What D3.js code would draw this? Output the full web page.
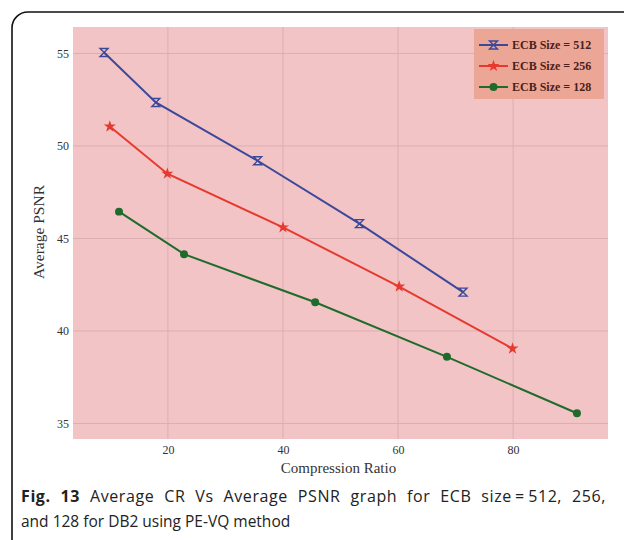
<!DOCTYPE html>
<html><head><meta charset="utf-8">
<script src="https://cdn.jsdelivr.net/npm/d3@7"></script>
<style>body{margin:0;background:#fff;}svg{display:block;}</style>
</head><body>
<script>
const cr512 = [8.9, 17.9, 35.6, 53.3, 71.3];
const psnr512 = [55.05, 52.35, 49.2, 45.8, 42.1];
const cr256 = [9.9, 19.9, 40.0, 60.2, 79.9];
const psnr256 = [51.05, 48.5, 45.6, 42.4, 39.05];
const cr128 = [11.5, 22.8, 45.6, 68.5, 91.1];
const psnr128 = [46.45, 44.15, 41.55, 38.6, 35.55];
const seriesNames = ["ECB Size = 512", "ECB Size = 256", "ECB Size = 128"];
const xTicks = [20, 40, 60, 80];
const yTicks = [35, 40, 45, 50, 55];
const captionBold = "Fig. 13";
const captionLine1 = " Average CR Vs Average PSNR graph for ECB size\u2009=\u2009512, 256,";
const captionLine2 = "and 128 for DB2 using PE-VQ method";

(function () {
const W = 624, H = 540;
const svg = d3.select("body").append("svg").attr("width", W).attr("height", H);

// outer frame
svg.append("rect").attr("x", 12).attr("y", 12).attr("width", 640).attr("height", 560)
  .attr("rx", 16).attr("fill", "#fff").attr("stroke", "#111").attr("stroke-width", 1.6);

const pL = 73, pR = 608, pT = 27, pB = 439;
const x = d3.scaleLinear().domain([3.5, 96.5]).range([pL, pR]);
const y = d3.scaleLinear().domain([34.16, 56.43]).range([pB, pT]);

svg.append("rect").attr("x", pL).attr("y", pT).attr("width", pR - pL).attr("height", pB - pT)
  .attr("fill", "#f2c4c6");

// grid
svg.append("g").selectAll("line").data(xTicks).join("line")
  .attr("x1", d => x(d)).attr("x2", d => x(d)).attr("y1", pT).attr("y2", pB)
  .attr("stroke", "#dcaeb2").attr("stroke-width", 1);
svg.append("g").selectAll("line").data(yTicks).join("line")
  .attr("y1", d => y(d)).attr("y2", d => y(d)).attr("x1", pL).attr("x2", pR)
  .attr("stroke", "#dcaeb2").attr("stroke-width", 1);

// axes
const xAxis = svg.append("g").attr("transform", `translate(0,${pB})`)
  .call(d3.axisBottom(x).tickValues(xTicks).tickSize(0).tickPadding(6));
const yAxis = svg.append("g").attr("transform", `translate(${pL},0)`)
  .call(d3.axisLeft(y).tickValues(yTicks).tickSize(0).tickPadding(4));
[xAxis, yAxis].forEach(a => {
  a.select(".domain").remove();
  a.selectAll("text").attr("font-family", "Liberation Serif, serif").attr("font-size", 12).attr("fill", "#333");
});

svg.append("text").attr("x", (pL + pR) / 2 - 2).attr("y", 473).attr("text-anchor", "middle")
  .attr("font-family", "Liberation Serif, serif").attr("font-size", 15).attr("fill", "#333")
  .text("Compression Ratio");
svg.append("text").attr("transform", "translate(44,232) rotate(-90)").attr("text-anchor", "middle")
  .attr("font-family", "Liberation Serif, serif").attr("font-size", 15.5).attr("fill", "#333")
  .text("Average PSNR");

const colors = ["#3c4899", "#e63a2e", "#1f6b2c"];
const data = [
  cr512.map((c, i) => [c, psnr512[i]]),
  cr256.map((c, i) => [c, psnr256[i]]),
  cr128.map((c, i) => [c, psnr128[i]])
];
const line = d3.line().x(d => x(d[0])).y(d => y(d[1]));

const hourglass = "M-4,-4L4,-4L-4,4L4,4Z";
const star = d3.symbol().type(d3.symbolStar).size(45)();
const circle = d3.symbol().type(d3.symbolCircle).size(50)();

function drawMarker(g, i) {
  if (i === 0) g.append("path").attr("d", hourglass).attr("fill", "none").attr("stroke", colors[0]).attr("stroke-width", 1.4);
  else if (i === 1) g.append("path").attr("d", star).attr("fill", colors[1]);
  else g.append("path").attr("d", circle).attr("fill", colors[2]);
}

data.forEach((s, i) => {
  svg.append("path").datum(s).attr("d", line).attr("fill", "none")
    .attr("stroke", colors[i]).attr("stroke-width", 2);
  s.forEach(p => {
    const g = svg.append("g").attr("transform", `translate(${x(p[0])},${y(p[1])})`);
    drawMarker(g, i);
  });
});

// legend
const lg = svg.append("g");
lg.append("rect").attr("x", 474).attr("y", 29).attr("width", 130).attr("height", 70).attr("fill", "#eca696");
seriesNames.forEach((n, i) => {
  const yy = 45 + i * 21;
  lg.append("line").attr("x1", 479).attr("x2", 508).attr("y1", yy).attr("y2", yy)
    .attr("stroke", colors[i]).attr("stroke-width", 2);
  const g = lg.append("g").attr("transform", `translate(493.5,${yy})`);
  drawMarker(g, i);
  lg.append("text").attr("x", 512).attr("y", yy + 4).attr("font-family", "Liberation Serif, serif")
    .attr("font-size", 12).attr("font-weight", "bold").attr("fill", "#4a1f1c").text(n);
});

// caption (first line justified)
const cap = svg.append("text").attr("x", 21).attr("y", 502).attr("font-family", "Open Sans, sans-serif")
  .attr("font-size", 16).attr("letter-spacing", 0.6).attr("fill", "#222");
cap.append("tspan").attr("font-weight", "bold").text(captionBold);
cap.append("tspan").text(captionLine1);
const full = captionBold + captionLine1;
const nSpaces = (full.match(/ /g) || []).length;
const len = cap.node().getComputedTextLength();
const target = 606 - 21;
if (len < target && nSpaces > 0) cap.attr("word-spacing", (target - len) / nSpaces);
svg.append("text").attr("x", 21).attr("y", 527).attr("font-family", "Open Sans, sans-serif")
  .attr("font-size", 15.5).attr("fill", "#222").text(captionLine2);
})();
</script>
</body></html>
